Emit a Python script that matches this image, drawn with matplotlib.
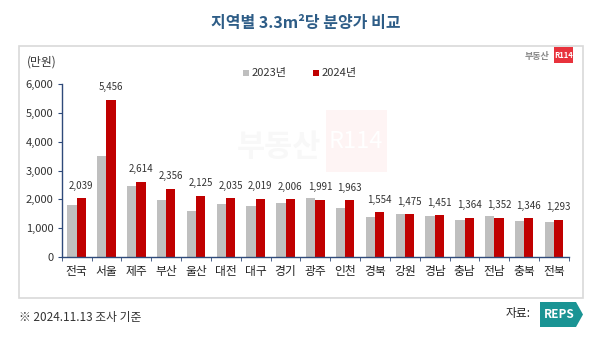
import matplotlib.pyplot as plt
from matplotlib.patches import Rectangle, Polygon
import numpy as np

plt.rcParams['font.family'] = ['Noto Sans CJK KR', 'DejaVu Sans']

regions = ['전국', '서울', '제주', '부산', '울산', '대전', '대구', '경기', '광주',
           '인천', '경북', '강원', '경남', '충남', '전남', '충북', '전북']
price_2023 = [1800, 3500, 2450, 1980, 1600, 1840, 1770, 1870, 2060,
              1710, 1380, 1500, 1430, 1270, 1410, 1240, 1200]
price_2024 = [2039, 5456, 2614, 2356, 2125, 2035, 2019, 2006, 1991,
              1963, 1554, 1475, 1451, 1364, 1352, 1346, 1293]
y_ticks = [0, 1000, 2000, 3000, 4000, 5000, 6000]

W, H = 600, 349
fig = plt.figure(figsize=(W / 100, H / 100), dpi=100)

# overlay in pixel coordinates for frame, title, logos
bg = fig.add_axes([0, 0, 1, 1])
bg.set_xlim(0, W); bg.set_ylim(H, 0); bg.axis('off')

bg.text(306, 23, '지역별 3.3m²당 분양가 비교', ha='center', va='center',
        fontsize=11.5, fontweight='bold', color='#2e5d87')
bg.add_patch(Rectangle((19, 46), 564, 252, fc='white', ec='#d9d9d9', lw=1.2))
bg.text(27, 62, '(만원)', ha='left', va='center', fontsize=8.5, color='#333333')

# watermark
bg.text(279, 147, '부동산', ha='center', va='center', fontsize=22,
        fontweight='bold', color='#f8f8f8')
bg.add_patch(Rectangle((326, 110), 61, 62, fc='#fef4f4', ec='none'))
bg.text(356, 142, 'R114', ha='center', va='center', fontsize=17,
        color='white')

# top-right logo
bg.text(537, 56, '부동산', ha='center', va='center', fontsize=6.5,
        fontweight='bold', color='#8a8a8a')
bg.add_patch(Rectangle((554, 47), 19, 16, fc='#e8323c', ec='none'))
bg.text(563.5, 55.5, 'R114', ha='center', va='center', fontsize=5.5,
        fontweight='bold', color='white')

# legend
bg.add_patch(Rectangle((243, 70), 6, 6, fc='#bfbfbf', ec='none'))
bg.text(252, 73, '2023년', ha='left', va='center', fontsize=8, color='#333333')
bg.add_patch(Rectangle((313, 70), 6, 6, fc='#c00000', ec='none'))
bg.text(322, 73, '2024년', ha='left', va='center', fontsize=8, color='#333333')

# footnote and source
bg.text(19, 318, '※ 2024.11.13 조사 기준', ha='left', va='center',
        fontsize=8.5, color='#333333')
bg.text(506, 313, '자료:', ha='left', va='center', fontsize=8.5, color='#222222')
bg.add_patch(Polygon([(540, 302), (576, 302), (583, 314.5), (576, 327), (540, 327)],
                     closed=True, fc='#1a9494', ec='none'))
bg.text(559, 314.5, 'REPS', ha='center', va='center', fontsize=8.5,
        fontweight='bold', color='white')

# bar chart
ax = fig.add_axes([61.7 / W, 1 - 257 / H, (569 - 61.7) / W, (257 - 84) / H])
ax.patch.set_alpha(0)
x = np.arange(len(regions))
bw = 0.31
ax.bar(x - bw / 2, price_2023, bw, color='#bfbfbf')
ax.bar(x + bw / 2, price_2024, bw, color='#c00000')
for xi, v in zip(x, price_2024):
    ax.annotate(f'{v:,}', (xi + bw / 2, v), xytext=(0, 5.5),
                textcoords='offset points', ha='center', va='bottom',
                fontsize=7, color='#333333')

ax.set_xlim(-0.5, len(regions) - 0.5)
ax.set_ylim(0, 6000)
ax.set_yticks(y_ticks)
ax.set_yticklabels([f'{t:,}' for t in y_ticks], fontsize=8, color='#333333')
ax.set_xticks(x)
ax.set_xticklabels(regions, fontsize=8.5, color='#222222')
ax.tick_params(axis='x', length=0, pad=6)
ax.set_xticks(np.arange(len(regions) + 1) - 0.5, minor=True)
ax.tick_params(axis='x', which='minor', length=3, color='#2f4a7a')
ax.tick_params(axis='y', length=3, color='#2f4a7a', pad=3)
for side in ['top', 'right']:
    ax.spines[side].set_visible(False)
for side in ['left', 'bottom']:
    ax.spines[side].set_color('#2f4a7a')
    ax.spines[side].set_linewidth(1)

fig.savefig('out.png', dpi=100)
